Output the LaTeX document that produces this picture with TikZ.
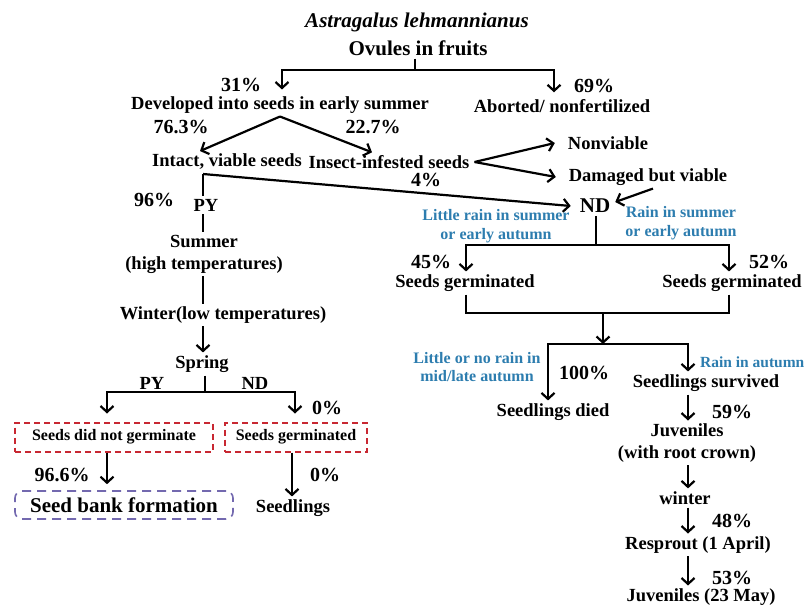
\documentclass[tikz,border=0pt]{standalone}
\usepackage{fontspec}
\setmainfont{Liberation Serif}
\usetikzlibrary{arrows.meta}
\definecolor{NoteBlue}{RGB}{45,125,175}
\definecolor{BoxRed}{RGB}{200,40,50}
\definecolor{BoxPurple}{RGB}{115,105,175}
\newcommand{\MainSize}{\fontsize{18.5}{22}\selectfont\bfseries}
\newcommand{\PctSize}{\fontsize{20}{22}\selectfont\bfseries}
\newcommand{\NoteSize}{\fontsize{16}{18.5}\selectfont\bfseries}
\newcommand{\BoxSize}{\fontsize{16}{18}\selectfont\bfseries}
% x/y/value of the percentages
\def\PercentList{241/85/31, 594/86/69, 181/127/76.3, 373/127/22.7, 426/180/4, 154/200/96,
	327/408/0, 62/475/96.6, 325/475/0, 431/262/45, 769/262/52, 584/373/100,
	732/412/59, 732/521/48, 732/578/53}
\tikzset{Stage/.style={
		inner sep=2pt,
		align=center,
		font=\MainSize,
	},
	Pct/.style={inner sep=0pt, font=\PctSize},
	Note/.style={inner sep=0pt, align=center, text=NoteBlue, font=\NoteSize},
	Arrow/.style={-{Straight Barb[length=6pt,width=13pt]}},
	RedBox/.style={
		draw=BoxRed,
		line width=2pt,
		dash pattern=on 6pt off 4pt,
		minimum height=29pt,
		font=\BoxSize,
	},
	BankBox/.style={
		draw=BoxPurple,
		line width=1.6pt,
		dash pattern=on 9pt off 6pt,
		rounded corners=7pt,
		minimum width=218pt,
		minimum height=28pt,
		font=\fontsize{21}{23}\selectfont\bfseries,
	}
}

\begin{document}
\begin{tikzpicture}[x=1pt, y=-1pt, line width=2.2pt, draw=black]
	\useasboundingbox (0,0) rectangle (806,608);
	% top
	\node[inner sep=0pt, font=\fontsize{21}{23}\selectfont\bfseries\itshape] (species) at (417,22) {Astragalus lehmannianus};
	\node[Stage, font=\fontsize{21}{23}\selectfont\bfseries] (ovules) at (418,48) {Ovules in fruits};
	\node[Stage] (developed) at (280,105) {Developed into seeds in early summer};
	\node[Stage] (aborted) at (562,106) {Aborted/ nonfertilized};
	\node[Stage] (intact) at (227,162) {Intact, viable seeds};
	\node[Stage] (insect) at (389,162) {Insect-infested seeds};
	\node[Stage] (nonviable) at (608,143) {Nonviable};
	\node[Stage] (damaged) at (648,177) {Damaged but viable};
	\node[Stage, font=\fontsize{21}{23}\selectfont\bfseries] (nd) at (595,206) {ND};
	\coordinate (fork1) at (415,70);
	\draw (ovules.south -| fork1) -- (fork1);
	\draw[Arrow] (fork1) -| ([xshift=2pt,yshift=4pt]developed.north);
	\draw[Arrow] (fork1) -| ([xshift=-8pt,yshift=4pt]aborted.north);
	\draw[Arrow] (developed.south) -- ([xshift=-27pt]intact.north);
	\draw[Arrow] (developed.south) -- ([xshift=-17pt]insect.north);
	\draw[Arrow] ([xshift=2pt]insect.east) -- ([xshift=-10pt]nonviable.west);
	\draw[Arrow] ([xshift=2pt]insect.east) -- ([xshift=-10pt]damaged.west);
	\draw[Arrow] ([xshift=5pt]damaged.south) -- ([yshift=4pt,xshift=2pt]nd.east);
	% PY branch
	\coordinate (pytop) at (203,174);
	\node[Stage] (py) at (206,205) {PY};
	\node[Stage] (summer) at (204,254) {Summer\\(high temperatures)};
	\node[Stage] (winter) at (223,315) {Winter(low temperatures)};
	\node[Stage] (spring) at (202,364) {Spring};
	\draw[Arrow] (pytop) -- ([xshift=-6pt]nd.west);
	\draw (pytop) -- (py.north -| pytop);
	\draw (py.south -| pytop) -- (summer.north -| pytop);
	\draw (summer.south -| pytop) -- (winter.north -| pytop);
	\draw[Arrow] (winter.south -| pytop) -- (spring.north -| pytop);
	\coordinate (fork3) at (205,392);
	\node[Stage] (pyleft) at (152,383) {PY};
	\node[Stage] (ndright) at (255,383) {ND};
	\node[RedBox, minimum width=198pt] (nogerm) at (114,437) {Seeds did not germinate};
	\node[RedBox, minimum width=142pt] (germ) at (296,437) {Seeds germinated};
	\node[BankBox] (bank) at (124,505) {Seed bank formation};
	\node[Stage] (seedlings) at (293,508) {Seedlings};
	\draw (spring.south -| fork3) -- (fork3);
	\draw[Arrow] (fork3) -| ([xshift=-7pt,yshift=8pt]nogerm.north);
	\draw[Arrow] (fork3) -| ([xshift=-1pt,yshift=8pt]germ.north);
	\draw[Arrow] ([xshift=-7pt]nogerm.south) -- ([xshift=-17pt,yshift=6pt]bank.north);
	\draw[Arrow] ([xshift=-4pt]germ.south) -- ([xshift=-1pt]seedlings.north);
	% ND branch
	\node[Note] (littlerain) at (496,226) {Little rain in summer\\or early autumn};
	\node[Note] (rain) at (681,223) {Rain in summer\\or early autumn};
	\node[Stage] (germleft) at (465,283) {Seeds germinated};
	\node[Stage] (germright) at (732,283) {Seeds germinated};
	\coordinate (fork2) at (596,245);
	\draw (nd.south -| fork2) -- (fork2);
	\draw[Arrow] (fork2) -| ([xshift=1pt]germleft.north);
	\draw[Arrow] (fork2) -| ([xshift=-3pt]germright.north);
	\coordinate (join) at (603,313);
	\coordinate (fork4) at (603,344);
	\draw ([xshift=1pt]germleft.south) |- (join);
	\draw ([xshift=-3pt]germright.south) |- (join);
	\draw[Arrow] (join) -- (fork4);
	\node[Note] (norain) at (477,367) {Little or no rain in\\mid/late autumn};
	\node[Note, anchor=west, font=\fontsize{15.5}{18}\selectfont\bfseries] (autumnrain) at (699,362) {Rain in autumn};
	\node[Stage] (died) at (553,412) {Seedlings died};
	\node[Stage] (survived) at (706,383) {Seedlings survived};
	\draw[Arrow] (fork4) -| ([xshift=-5pt]died.north);
	\draw[Arrow] (fork4) -| ([xshift=-18pt]survived.north);
	% juveniles
	\coordinate (spine) at (688,0);
	\node[Stage] (juvenile) at (687,443) {Juveniles\\(with root crown)};
	\node[Stage] (winterB) at (685,498) {winter};
	\node[Stage] (resprout) at (698,545) {Resprout (1 April)};
	\node[Stage] (juvenileB) at (701,597) {Juveniles (23 May)};
	\foreach \from/\to in {survived/juvenile, juvenile/winterB, winterB/resprout, resprout/juvenileB}{%
		\draw[Arrow] (\from.south -| spine) -- (\to.north -| spine);
	}
	% percentages
	\foreach \px/\py/\val [count=\i] in \PercentList{%
		\node[Pct] (pct\i) at (\px,\py) {\val\%};
	}
\end{tikzpicture}
\end{document}
